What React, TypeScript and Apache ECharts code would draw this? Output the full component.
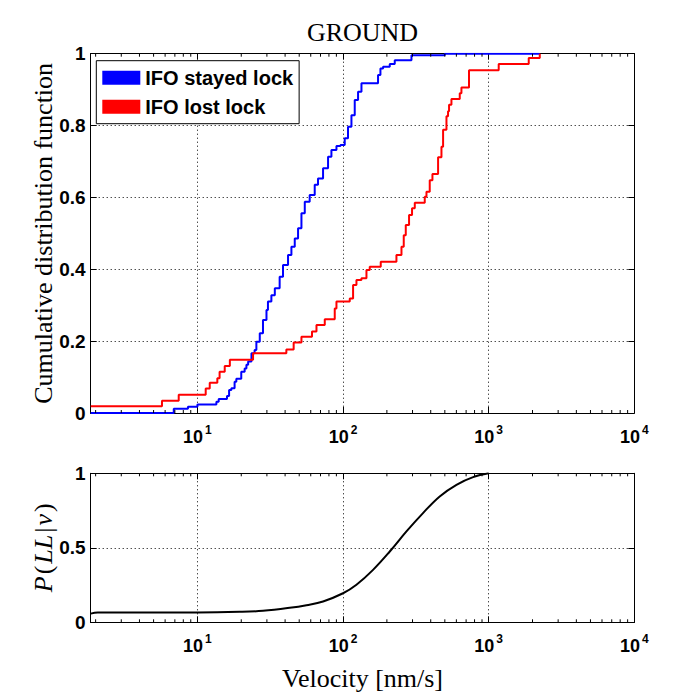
import React, { useEffect, useRef } from "react";
import * as echarts from "echarts";

const X_MIN = 1.85;
const X_MAX = 10000;

// IFO stayed lock (blue) empirical CDF steps
const stayedX = [1.85, 6.88, 8.61, 10, 13.5, 14.0, 15.96, 16.5, 17.1, 18.0, 18.5, 20.0, 21.1, 21.7, 22.3, 23.5, 24.7, 25.4, 26.8, 28.2, 29.8, 30.5, 32.2, 34.0, 36.7, 38.7, 41.9, 44.2, 46.6, 49.1, 51.8, 54.6, 59.0, 63.9, 67.3, 72.9, 78.9, 83.2, 90.1, 96, 102.7, 108.2, 114.2, 120.3, 126.8, 133.8, 173.9, 180.6, 188.3, 209.3, 226.5, 295, 499.5, 2243];
const stayedY = [0, 0.012, 0.0175, 0.024, 0.031, 0.039, 0.047, 0.064, 0.069, 0.087, 0.095, 0.115, 0.124, 0.134, 0.143, 0.166, 0.175, 0.198, 0.222, 0.259, 0.287, 0.31, 0.328, 0.347, 0.379, 0.412, 0.44, 0.463, 0.486, 0.514, 0.556, 0.588, 0.607, 0.635, 0.653, 0.681, 0.713, 0.732, 0.743, 0.746, 0.765, 0.797, 0.829, 0.871, 0.894, 0.918, 0.941, 0.959, 0.964, 0.971, 0.982, 0.996, 1.0, 1.0];

// IFO lost lock (red) empirical CDF steps
const lostX = [1.85, 5.71, 7.44, 11.4, 12.15, 13.7, 14.2, 15.4, 16.7, 24.1, 40.8, 45.8, 51.8, 61.2, 65.7, 74.9, 87.7, 90.1, 111.2, 117.2, 123.6, 133.7, 144.8, 152.5, 181.5, 232.6, 251.9, 261.1, 269.6, 284, 297.7, 310.9, 364, 374, 393.8, 411, 449.4, 474, 486.4, 513, 526, 534.5, 555, 633, 650, 733, 1172, 1884, 2243];
const lostY = [0.0186, 0.034, 0.051, 0.068, 0.084, 0.097, 0.115, 0.131, 0.148, 0.166, 0.177, 0.196, 0.212, 0.227, 0.245, 0.261, 0.291, 0.31, 0.319, 0.356, 0.37, 0.375, 0.398, 0.407, 0.421, 0.44, 0.463, 0.495, 0.523, 0.551, 0.57, 0.585, 0.602, 0.616, 0.648, 0.665, 0.712, 0.741, 0.788, 0.826, 0.84, 0.858, 0.874, 0.89, 0.906, 0.954, 0.971, 0.988, 1.0];

// P(LL|v)
const probX = [1.85, 2.07, 10, 19.5, 28.2, 43.0, 56.1, 72.9, 100, 123.6, 160.7, 209.3, 272.5, 354, 461, 601, 782, 1000];
const probY = [0.058, 0.066, 0.066, 0.07, 0.077, 0.097, 0.115, 0.14, 0.195, 0.252, 0.352, 0.475, 0.61, 0.733, 0.845, 0.923, 0.974, 1.0];

const minorTicks = [2, 3, 4, 5, 6, 7, 8, 9, 20, 30, 40, 50, 60, 70, 80, 90, 200, 300, 400, 500, 600, 700, 800, 900, 2000, 3000, 4000, 5000, 6000, 7000, 8000, 9000];

const SERIF = "Liberation Serif";
const SANS = "Liberation Sans";

const zip = (xs: number[], ys: number[]) => xs.map((x, i) => [x, ys[i]]);

export default function App() {
  const ref = useRef<HTMLDivElement>(null);
  useEffect(() => {
    if (!ref.current) return;
    const chart = echarts.init(ref.current, undefined, { renderer: "svg" });

    const fmtX = (v: number) => {
      const l = Math.log10(v);
      const e = Math.round(l);
      if (Math.abs(l - e) > 1e-6) return "";
      return `{b|10}{s|${e}}`;
    };
    const xRich = {
      b: { fontFamily: SANS, fontWeight: "bold", fontSize: 18, color: "#000", lineHeight: 22, verticalAlign: "bottom" },
      s: { fontFamily: SANS, fontWeight: "bold", fontSize: 12, color: "#000", lineHeight: 13, verticalAlign: "top", padding: [0, 0, 0, 2] },
    };
    const black = { color: "#000", width: 1 };
    const dotted = { show: true, lineStyle: { type: [1, 3], color: "#000", width: 1 } };

    const xBottom = (grid: number, extra: any = {}) => ({
      gridIndex: grid,
      type: "log",
      logBase: 10,
      min: X_MIN,
      max: X_MAX,
      position: "bottom",
      axisLine: { show: true, onZero: false, lineStyle: black },
      axisTick: { show: true, inside: true, length: 6, lineStyle: black },
      axisLabel: { show: true, margin: 11, formatter: fmtX, rich: xRich },
      splitLine: dotted,
      ...extra,
    });
    const xTop = (grid: number) => ({
      gridIndex: grid,
      type: "log",
      logBase: 10,
      min: X_MIN,
      max: X_MAX,
      position: "top",
      axisLine: { show: true, onZero: false, lineStyle: black },
      axisTick: { show: true, inside: true, length: 6, lineStyle: black },
      axisLabel: { show: false },
      splitLine: { show: false },
    });
    const yLeft = (grid: number, interval: number, extra: any = {}) => ({
      gridIndex: grid,
      type: "value",
      min: 0,
      max: 1,
      interval,
      position: "left",
      axisLine: { show: true, onZero: false, lineStyle: black },
      axisTick: { show: true, inside: true, length: 6, lineStyle: black },
      axisLabel: {
        show: true,
        margin: 5,
        fontFamily: SANS,
        fontWeight: "bold",
        fontSize: 19,
        color: "#000",
        formatter: (v: number) => String(v),
      },
      splitLine: dotted,
      ...extra,
    });
    const yRight = (grid: number, interval: number) => ({
      gridIndex: grid,
      type: "value",
      min: 0,
      max: 1,
      interval,
      position: "right",
      axisLine: { show: true, onZero: false, lineStyle: black },
      axisTick: { show: true, inside: true, length: 6, lineStyle: black },
      axisLabel: { show: false },
      splitLine: { show: false },
    });

    const minorSeries = (xi: number, yi: number) => ({
      type: "custom",
      xAxisIndex: xi,
      yAxisIndex: yi,
      silent: true,
      clip: false,
      z: 3,
      data: minorTicks.filter((v) => v > X_MIN && v < X_MAX).map((v) => [v, 0]),
      encode: { x: 0, y: 1 },
      renderItem: (_p: any, api: any) => {
        const v = api.value(0);
        const b = api.coord([v, 0]);
        const t = api.coord([v, 1]);
        const st = { stroke: "#000", lineWidth: 1 };
        return {
          type: "group",
          children: [
            { type: "line", shape: { x1: b[0], y1: b[1], x2: b[0], y2: b[1] - 3 }, style: st },
            { type: "line", shape: { x1: t[0], y1: t[1], x2: t[0], y2: t[1] + 3 }, style: st },
          ],
        };
      },
    });

    const option: any = {
      animation: false,
      backgroundColor: "#fff",
      grid: [
        { left: 90.7, top: 53.7, width: 543.6, height: 359.3 },
        { left: 90.7, top: 473.3, width: 543.6, height: 149 },
      ],
      graphic: [
        {
          type: "text",
          x: 362.5,
          y: 32,
          style: { text: "GROUND", fontFamily: SERIF, fontSize: 26, fill: "#000", align: "center", verticalAlign: "middle" },
        },
      ],
      legend: {
        data: [
          { name: "IFO stayed lock", icon: "rect" },
          { name: "IFO lost lock", icon: "rect" },
        ],
        orient: "vertical",
        left: 96.3,
        top: 60.7,
        itemWidth: 38,
        itemHeight: 14,
        itemGap: 9,
        padding: [7, 6, 7, 6],
        backgroundColor: "#fff",
        borderColor: "#000",
        borderWidth: 1,
        borderRadius: 0,
        selectedMode: false,
        textStyle: { fontFamily: SANS, fontWeight: "bold", fontSize: 20, color: "#000" },
      },
      xAxis: [
        xBottom(0),
        xTop(0),
        xBottom(1, {
          name: "Velocity [nm/s]",
          nameLocation: "middle",
          nameGap: 43,
          nameMoveOverlap: false,
          nameTextStyle: { fontFamily: SERIF, fontSize: 26, color: "#000" },
        }),
        xTop(1),
      ],
      yAxis: [
        yLeft(0, 0.2, {
          name: "Cumulative distribution function",
          nameLocation: "middle",
          nameGap: 34,
          nameMoveOverlap: false,
          nameTextStyle: { fontFamily: SERIF, fontSize: 26, color: "#000" },
        }),
        yRight(0, 0.2),
        yLeft(1, 0.5, {
          name: "{i|P}{r|(}{i|LL}{r||}{i|v}{r|)}",
          nameLocation: "middle",
          nameGap: 34,
          nameMoveOverlap: false,
          nameTextStyle: {
            color: "#000",
            rich: {
              i: { fontFamily: SERIF, fontStyle: "italic", fontSize: 26, color: "#000", padding: [0, 1, 0, 1] },
              r: { fontFamily: SERIF, fontSize: 26, color: "#000", padding: [0, 1, 0, 1] },
            },
          },
        }),
        yRight(1, 0.5),
      ],
      series: [
        {
          name: "IFO stayed lock",
          type: "line",
          xAxisIndex: 0,
          yAxisIndex: 0,
          step: "end",
          showSymbol: false,
          data: zip(stayedX, stayedY),
          color: "#0000ff",
          itemStyle: { color: "#0000ff" },
          lineStyle: { color: "#0000ff", width: 2 },
          z: 2,
        },
        {
          name: "IFO lost lock",
          type: "line",
          xAxisIndex: 0,
          yAxisIndex: 0,
          step: "end",
          showSymbol: false,
          data: zip(lostX, lostY),
          color: "#ff0000",
          itemStyle: { color: "#ff0000" },
          lineStyle: { color: "#ff0000", width: 2 },
          z: 2,
        },
        {
          name: "P(LL|v)",
          type: "line",
          xAxisIndex: 2,
          yAxisIndex: 2,
          smooth: 0.4,
          showSymbol: false,
          data: zip(probX, probY),
          color: "#000",
          lineStyle: { color: "#000", width: 2 },
        },
        minorSeries(0, 0),
        minorSeries(2, 2),
      ],
    };
    chart.setOption(option);
    return () => chart.dispose();
  }, []);
  return <div ref={ref} style={{ position: "absolute", left: 0, top: 0, width: 700, height: 700 }} />;
}
